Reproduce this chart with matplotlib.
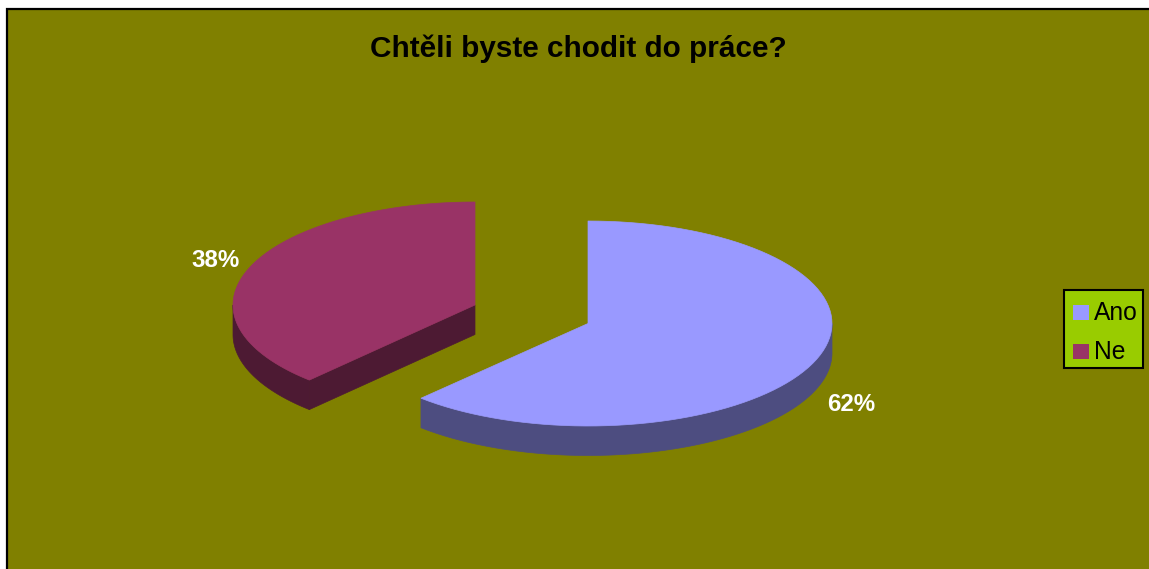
import numpy as np
import matplotlib
matplotlib.use("Agg")
import matplotlib.pyplot as plt
from matplotlib.patches import Polygon, Rectangle

plt.rcParams['font.family'] = ['Liberation Sans', 'DejaVu Sans']

title = 'Chtěli byste chodit do práce?'
categories = ['Ano', 'Ne']
values = [62, 38]
top_colors = ['#9999FF', '#993366']
wall_colors = ['#4D4D80', '#4D1A33']

DEPTH = 29.5


def arc(cx, cy, rx, ry, start, stop):
    # points of the flattened ellipse between two angles in degrees
    t = np.radians(np.linspace(start, stop, 90))
    return np.column_stack([cx + rx * np.cos(t), cy - ry * np.sin(t)])


def draw_slice(ax, cx, cy, rx, ry, start, stop, top, wall):
    # start and stop run counter-clockwise, walls only show on the lower half
    if start < 0:
        rim = arc(cx, cy, rx, ry, start, 0)
    else:
        rim = arc(cx, cy, rx, ry, max(start, 180), min(stop, 360))
    down = rim + [0, DEPTH]
    ax.add_patch(Polygon(np.vstack([rim, down[::-1]]), fc=wall, ec=wall, lw=0.5))

    # cut face of a slice whose end angle points down and to the left of its centre
    if start >= 0:
        end = arc(cx, cy, rx, ry, stop, stop)[0]
        face = [[cx, cy], end, end + [0, DEPTH], [cx, cy + DEPTH]]
        ax.add_patch(Polygon(face, fc=wall, ec=wall, lw=0.5))

    pts = np.vstack([[[cx, cy]], arc(cx, cy, rx, ry, start, stop)])
    ax.add_patch(Polygon(pts, fc=top, ec=top, lw=0.5))


fig = plt.figure(figsize=(11.49, 5.69), dpi=100, facecolor='white')
ax = fig.add_axes([0, 0, 1, 1])
ax.set_xlim(0, 1149)
ax.set_ylim(569, 0)
ax.axis('off')

# olive chart area, cut off by the right and bottom of the figure
ax.add_patch(Rectangle((7, 9), 1160, 580, fc='#808000', ec='black', lw=1.6))

sweeps = [v / sum(values) * 360 for v in values]
draw_slice(ax, 588, 323.5, 244, 102.5, 90 - sweeps[0], 90, top_colors[0], wall_colors[0])
draw_slice(ax, 475, 305, 242, 103, 90, 90 + sweeps[1], top_colors[1], wall_colors[1])

ax.text(578.5, 48.5, title, ha='center', va='center', fontsize=21.4,
        fontweight='bold', color='black')
ax.text(851, 404, f'{values[0]}%', ha='center', va='center', fontsize=17.3,
        fontweight='bold', color='white')
ax.text(215.5, 260, f'{values[1]}%', ha='center', va='center', fontsize=17.3,
        fontweight='bold', color='white')

# legend box with one swatch and label per category
ax.add_patch(Rectangle((1063.5, 289.5), 79.5, 78, fc='#99CC00', ec='black', lw=1.5))
for i, (name, color) in enumerate(zip(categories, top_colors)):
    ax.add_patch(Rectangle((1073, 305 + i * 39), 16, 15, fc=color, ec='none'))
    ax.text(1094, 312.5 + i * 39, name, ha='left', va='center', fontsize=17.7, color='black')

fig.savefig('out.png', dpi=100)
